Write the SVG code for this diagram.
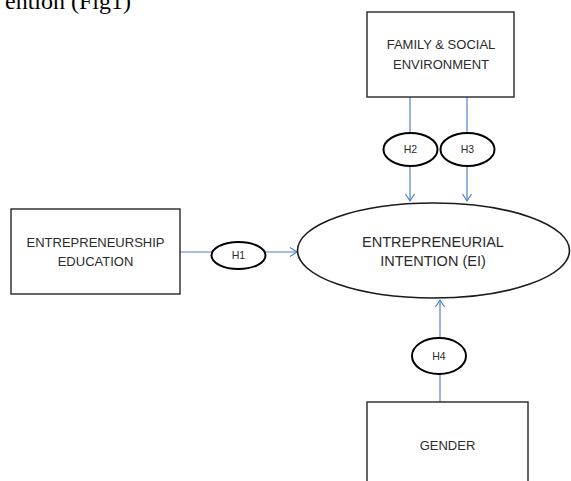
<svg xmlns="http://www.w3.org/2000/svg" width="571" height="481" viewBox="0 0 571 481">
<defs>
<style>
.box{fill:#fff;stroke:#262626;stroke-width:1.4}
.hyp{fill:#fff;stroke:#000;stroke-width:2}
.main{fill:#fff;stroke:#1a1a1a;stroke-width:1.6}
.lbl{font-family:"Liberation Sans",Arial,sans-serif;font-size:13px;fill:#2b2b2b;text-anchor:middle}
.big{font-family:"Liberation Sans",Arial,sans-serif;font-size:14.5px;fill:#2b2b2b;text-anchor:middle}
.h{font-family:"Liberation Sans",Arial,sans-serif;font-size:10.5px;fill:#2b2b2b;text-anchor:middle}
.conn{stroke:#4f81c7;stroke-width:1.2;fill:none}
</style>
<marker id="arr" markerWidth="10" markerHeight="12" refX="8" refY="5" orient="auto" markerUnits="userSpaceOnUse">
<path d="M1,0.5 L8,5 L1,9.5" fill="none" stroke="#4f81c7" stroke-width="1.2"/>
</marker>
</defs>
<text x="131" y="9" font-family="Liberation Serif,serif" font-size="24" fill="#000" text-anchor="end">ention (Fig1)</text>
<g id="connectors">
<line class="conn" x1="410" y1="97" x2="410" y2="201" marker-end="url(#arr)"/>
<line class="conn" x1="467" y1="97" x2="467" y2="201" marker-end="url(#arr)"/>
<line class="conn" x1="180" y1="252" x2="297" y2="252" marker-end="url(#arr)"/>
<line class="conn" x1="440" y1="402" x2="440" y2="300" marker-end="url(#arr)"/>
</g>
<g id="family">
<rect class="box" x="367" y="12" width="147" height="85"/>
<text class="lbl" x="441" y="49">FAMILY &amp; SOCIAL</text>
<text class="lbl" x="441" y="69">ENVIRONMENT</text>
</g>
<g id="education">
<rect class="box" x="11" y="209" width="169" height="85"/>
<text class="lbl" x="95.5" y="247">ENTREPRENEURSHIP</text>
<text class="lbl" x="95.5" y="266">EDUCATION</text>
</g>
<g id="intention">
<ellipse class="main" cx="433.5" cy="250.5" rx="136" ry="47.5"/>
<text class="big" x="433" y="247">ENTREPRENEURIAL</text>
<text class="big" x="433" y="266">INTENTION (EI)</text>
</g>
<g id="gender">
<rect class="box" x="367" y="402" width="161" height="100"/>
<text class="lbl" x="447.5" y="450">GENDER</text>
</g>
<g id="h1">
<ellipse class="hyp" cx="238.5" cy="255.5" rx="27" ry="13.5"/>
<text class="h" x="238.5" y="259">H1</text>
</g>
<g id="h2">
<ellipse class="hyp" cx="410.5" cy="149.5" rx="27" ry="16.5"/>
<text class="h" x="410.5" y="153">H2</text>
</g>
<g id="h3">
<ellipse class="hyp" cx="467.5" cy="149.5" rx="27" ry="16.5"/>
<text class="h" x="467.5" y="153">H3</text>
</g>
<g id="h4">
<ellipse class="hyp" cx="439" cy="356" rx="27" ry="18"/>
<text class="h" x="439" y="360">H4</text>
</g>
</svg>
